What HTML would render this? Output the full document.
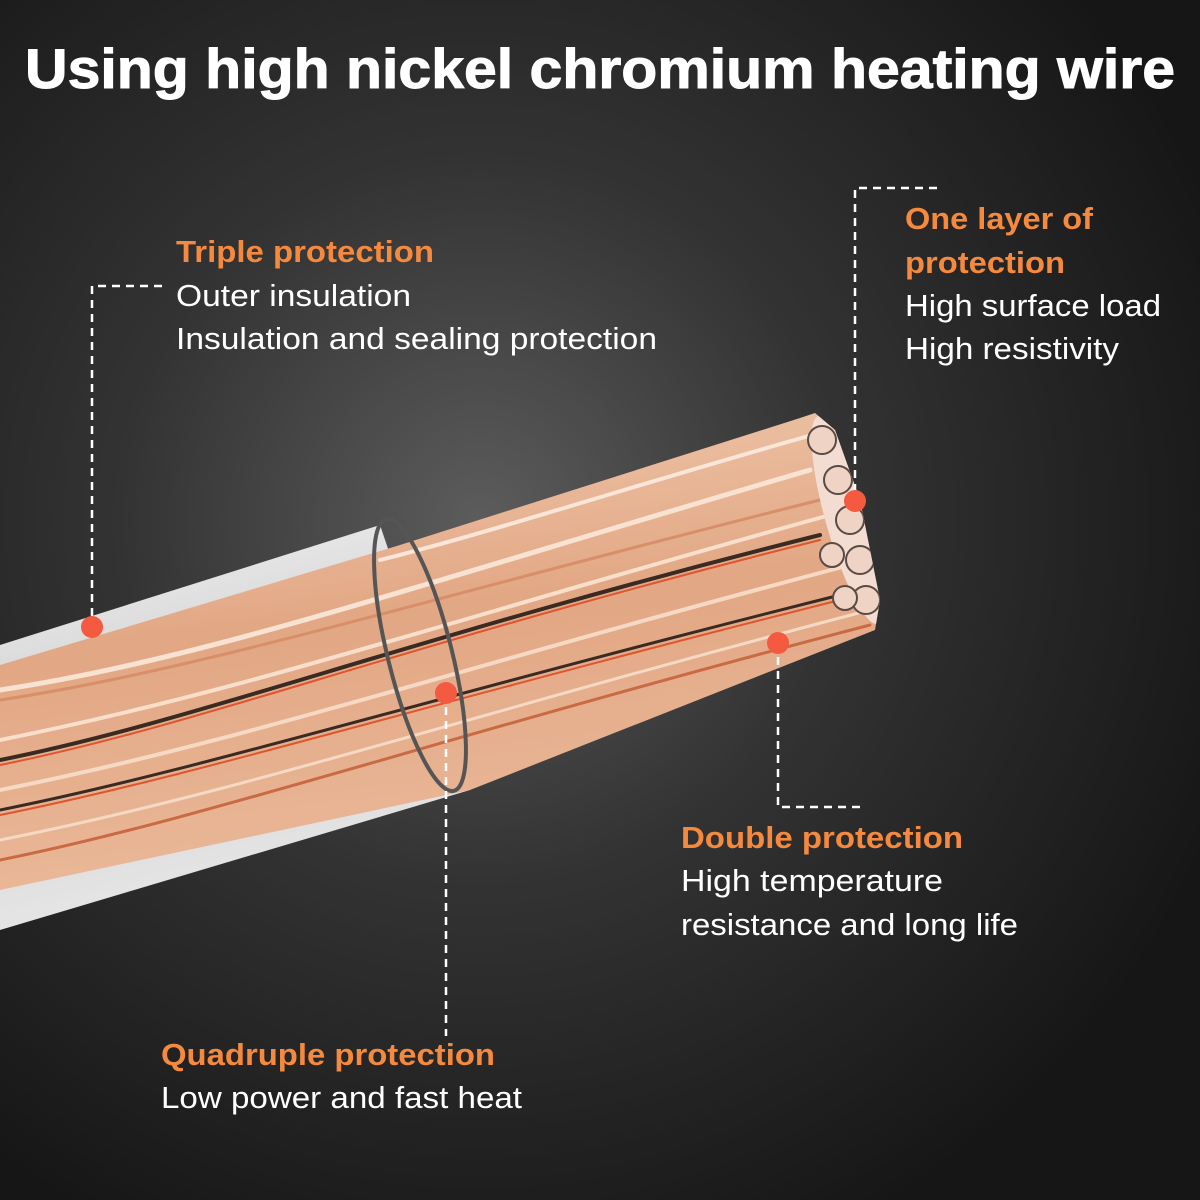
<!DOCTYPE html>
<html><head><meta charset="utf-8"><style>
html,body{margin:0;padding:0;width:1200px;height:1200px;overflow:hidden;background:#222}
svg{display:block}
</style></head><body>
<svg width="1200" height="1200" viewBox="0 0 1200 1200" xmlns="http://www.w3.org/2000/svg">
<defs>
<radialGradient id="bg" cx="480" cy="520" r="800" gradientUnits="userSpaceOnUse">
<stop offset="0" stop-color="#5c5c5c"/><stop offset="0.45" stop-color="#333"/><stop offset="1" stop-color="#161616"/>
</radialGradient>
<linearGradient id="ins" x1="0" y1="0" x2="0.25" y2="1">
<stop offset="0" stop-color="#f2f2f2"/><stop offset="0.5" stop-color="#d0d0d0"/><stop offset="1" stop-color="#e8e8e8"/>
</linearGradient>
<linearGradient id="cu" x1="0" y1="0" x2="0.2" y2="1">
<stop offset="0" stop-color="#f1cdb3"/><stop offset="0.5" stop-color="#e2a784"/><stop offset="1" stop-color="#eab999"/>
</linearGradient>
<clipPath id="cuclip"><polygon points="0,665 400,545 800,418 815,413 835,430 860,500 880,600 875,630 470,790 0,890"/></clipPath>
</defs>
<rect width="1200" height="1200" fill="url(#bg)"/>
<polygon points="0,645 380,525 470,790 0,930" fill="url(#ins)"/>
<g clip-path="url(#cuclip)">
<rect x="0" y="400" width="900" height="500" fill="url(#cu)"/>
<g stroke-linecap="round" fill="none">
<path d="M380,560 C500,530 650,480 830,430" stroke="#f9e6d8" stroke-width="4"/>
<path d="M0,690 C200,660 400,590 810,470" stroke="#f8e2d2" stroke-width="5"/>
<path d="M0,700 C200,670 420,600 820,500" stroke="#d88e68" stroke-width="3"/>
<path d="M0,740 C250,690 450,620 830,515" stroke="#f7dfcc" stroke-width="4"/>
<path d="M0,760 C200,720 400,640 820,535" stroke="#3a2a22" stroke-width="4"/>
<path d="M0,765 C200,725 400,645 820,540" stroke="#e0542e" stroke-width="2"/>
<path d="M0,790 C250,740 450,670 850,565" stroke="#f5d9c4" stroke-width="4"/>
<path d="M0,810 C200,770 420,700 860,590" stroke="#3a2a22" stroke-width="3"/>
<path d="M0,815 C200,775 420,705 860,595" stroke="#e0542e" stroke-width="2"/>
<path d="M0,840 C250,790 450,720 870,610" stroke="#f5d9c4" stroke-width="3"/>
<path d="M0,860 C200,820 430,740 870,625" stroke="#c96a45" stroke-width="3"/>
</g>
<ellipse cx="848" cy="520" rx="22" ry="108" fill="#f3ddd2" transform="rotate(-16 848 520)"/>
<g fill="#efd3c5" stroke="#5a4a44" stroke-width="2">
<circle cx="822" cy="440" r="14"/><circle cx="838" cy="480" r="14"/><circle cx="850" cy="520" r="14"/>
<circle cx="860" cy="560" r="14"/><circle cx="866" cy="600" r="14"/><circle cx="832" cy="555" r="12"/><circle cx="845" cy="598" r="12"/>
</g>
</g>
<ellipse cx="420" cy="655" rx="32" ry="140" fill="none" stroke="#555" stroke-width="4" transform="rotate(-14 420 655)"/>
<g stroke="#fff" stroke-width="2.5" fill="none" stroke-dasharray="8 6">
<polyline points="162,286 92,286 92,627"/>
<polyline points="937,188 855,188 855,500"/>
<polyline points="778,643 778,807 863,807"/>
<polyline points="446,693 446,1036"/>
</g>
<g fill="#f45a3f">
<circle cx="92" cy="627" r="11"/><circle cx="855" cy="501" r="11"/>
<circle cx="778" cy="643" r="11"/><circle cx="446" cy="693" r="11"/>
</g>
<g font-family="Liberation Sans, sans-serif" font-size="31">
<text x="600" y="88" text-anchor="middle" fill="#fff" font-weight="bold" font-size="56" textLength="1150" lengthAdjust="spacingAndGlyphs" stroke="#fff" stroke-width="1">Using high nickel chromium heating wire</text>
<g fill="#f58a3e" font-weight="bold">
<text x="176" y="262" textLength="258" lengthAdjust="spacingAndGlyphs">Triple protection</text>
<text x="905" y="229" textLength="188" lengthAdjust="spacingAndGlyphs">One layer of</text>
<text x="905" y="273" textLength="160" lengthAdjust="spacingAndGlyphs">protection</text>
<text x="681" y="848" textLength="282" lengthAdjust="spacingAndGlyphs">Double protection</text>
<text x="161" y="1065" textLength="334" lengthAdjust="spacingAndGlyphs">Quadruple protection</text>
</g>
<g fill="#fff">
<text x="176" y="306" textLength="235" lengthAdjust="spacingAndGlyphs">Outer insulation</text>
<text x="176" y="349" textLength="481" lengthAdjust="spacingAndGlyphs">Insulation and sealing protection</text>
<text x="905" y="316" textLength="256" lengthAdjust="spacingAndGlyphs">High surface load</text>
<text x="905" y="359" textLength="214" lengthAdjust="spacingAndGlyphs">High resistivity</text>
<text x="681" y="891" textLength="262" lengthAdjust="spacingAndGlyphs">High temperature</text>
<text x="681" y="935" textLength="337" lengthAdjust="spacingAndGlyphs">resistance and long life</text>
<text x="161" y="1108" textLength="361" lengthAdjust="spacingAndGlyphs">Low power and fast heat</text>
</g>
</g>
</svg>
</body></html>
